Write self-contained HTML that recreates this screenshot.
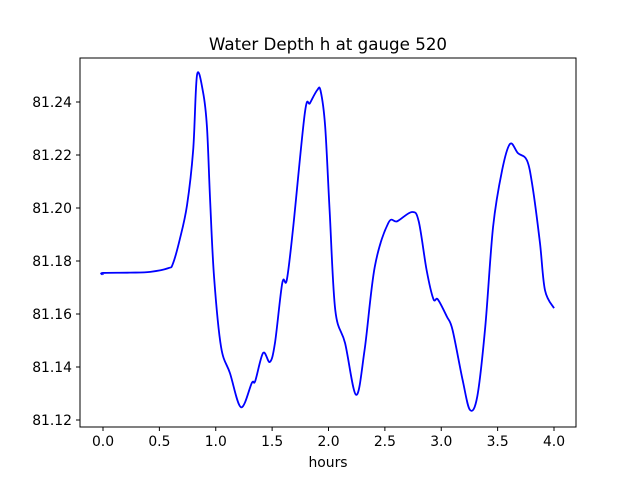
<!DOCTYPE html>
<html><head><meta charset="utf-8"><style>
body{margin:0;background:#fff;}
svg text{font-family:"DejaVu Sans","Liberation Sans",sans-serif;fill:#000;}
</style></head><body>
<svg id="chart" width="640" height="480" xmlns="http://www.w3.org/2000/svg">
<rect width="640" height="480" fill="#fff"/>
<text x="328" y="50" font-size="16.7" text-anchor="middle">Water Depth h at gauge 520</text>
<text x="328" y="467" font-size="13.9" text-anchor="middle">hours</text>
<g id="xt"></g>
<g id="yt"></g>
<path id="line" fill="none" stroke="#0000ff" stroke-width="1.8" stroke-linejoin="round"/>
<rect x="80" y="58" width="496" height="369" fill="none" stroke="#000" stroke-width="1"/>
</svg>
<script>
const hours=[0,0.001,0.24,0.42,0.58,0.62,0.68,0.745,0.8,0.834,0.887,0.922,0.95,0.985,1.047,1.126,1.224,1.32,1.35,1.42,1.48,1.525,1.59,1.63,1.685,1.79,1.836,1.9,1.93,1.97,2.01,2.06,2.147,2.245,2.32,2.41,2.53,2.61,2.74,2.8,2.87,2.93,2.97,3.05,3.1,3.19,3.255,3.32,3.39,3.46,3.54,3.61,3.68,3.76,3.81,3.875,3.92,4.0];
const depth=[81.1748,81.1755,81.1756,81.1759,81.1773,81.179,81.188,81.201,81.222,81.2502,81.2438,81.2306,81.203,81.174,81.1476,81.1377,81.1248,81.134,81.1347,81.1453,81.1419,81.149,81.1717,81.1728,81.192,81.2358,81.2396,81.2445,81.2442,81.231,81.199,81.1615,81.149,81.1295,81.1464,81.1777,81.1943,81.195,81.1985,81.195,81.1766,81.1657,81.1655,81.159,81.154,81.135,81.1238,81.129,81.155,81.193,81.2143,81.2242,81.2207,81.218,81.208,81.187,81.169,81.1622];
const xTicks=[0,0.5,1,1.5,2,2.5,3,3.5,4];
const xTickLabels=["0.0","0.5","1.0","1.5","2.0","2.5","3.0","3.5","4.0"];
const yTicks=[81.12,81.14,81.16,81.18,81.20,81.22,81.24];
const yTickLabels=["81.12","81.14","81.16","81.18","81.20","81.22","81.24"];
const xs=v=>103+v*112.75;
const ys=v=>102+(81.24-v)*2650;
const NS="http://www.w3.org/2000/svg";
const xt=document.getElementById('xt'),yt=document.getElementById('yt');
xTicks.forEach((t,i)=>{
 const l=document.createElementNS(NS,'line');
 
 
 l.setAttribute('x1',xs(t));l.setAttribute('x2',xs(t));l.setAttribute('y1',427);l.setAttribute('y2',431);l.setAttribute('stroke','#000');
 xt.appendChild(l);
 const tx=document.createElementNS(NS,'text');
 
 
 tx.setAttribute('x',xs(t));tx.setAttribute('y',446);tx.setAttribute('font-size','13.9');tx.setAttribute('text-anchor','middle');
 tx.textContent=xTickLabels[i];xt.appendChild(tx);
});
yTicks.forEach((t,i)=>{
 const l=document.createElementNS(NS,'line');
 
 
 l.setAttribute('x1',76);l.setAttribute('x2',80);l.setAttribute('y1',ys(t));l.setAttribute('y2',ys(t));l.setAttribute('stroke','#000');
 yt.appendChild(l);
 const tx=document.createElementNS(NS,'text');
 
 
 tx.setAttribute('x',72);tx.setAttribute('y',ys(t)+5);tx.setAttribute('font-size','13.9');tx.setAttribute('text-anchor','end');
 tx.textContent=yTickLabels[i];yt.appendChild(tx);
});
const P=hours.map((h,i)=>[xs(h),ys(depth[i])]);
let d='M'+P[0][0]+','+P[0][1];
for(let i=0;i<P.length-1;i++){
 const p0=P[Math.max(0,i-1)],p1=P[i],p2=P[i+1],p3=P[Math.min(P.length-1,i+2)];
 const c1=[p1[0]+(p2[0]-p0[0])/6,p1[1]+(p2[1]-p0[1])/6];
 const c2=[p2[0]-(p3[0]-p1[0])/6,p2[1]-(p3[1]-p1[1])/6];
 d+=` C${c1[0]},${c1[1]} ${c2[0]},${c2[1]} ${p2[0]},${p2[1]}`;
}
document.getElementById('line').setAttribute('d',d);
</script>
</body></html>
